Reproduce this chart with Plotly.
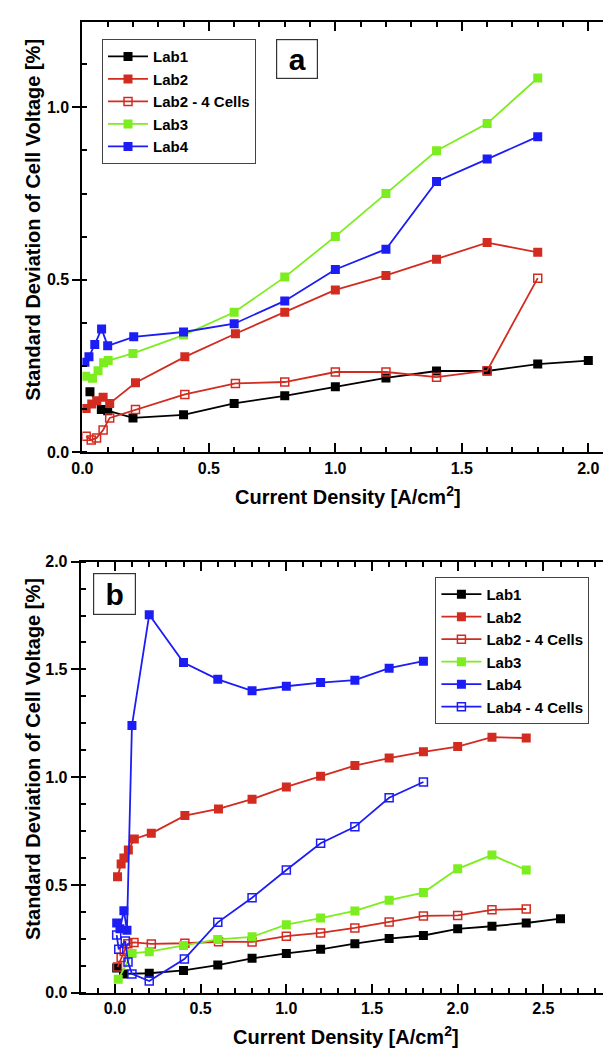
import plotly.graph_objects as go

# ---------------- Panel a data ----------------
a_lab1_x = [0.03, 0.075, 0.1, 0.2, 0.4, 0.6, 0.8, 1.0, 1.2, 1.4, 1.6, 1.8, 2.0]
a_lab1_y = [0.176, 0.124, 0.121, 0.100, 0.109, 0.142, 0.164, 0.190, 0.216, 0.236, 0.236, 0.256, 0.266]

a_lab2_x = [0.015, 0.037, 0.057, 0.082, 0.108, 0.21, 0.405, 0.605, 0.8, 1.0, 1.2, 1.4, 1.6, 1.8]
a_lab2_y = [0.127, 0.140, 0.150, 0.160, 0.142, 0.202, 0.277, 0.344, 0.406, 0.471, 0.513, 0.560, 0.608, 0.580]

a_lab2c_x = [0.015, 0.035, 0.056, 0.082, 0.108, 0.21, 0.405, 0.605, 0.8, 1.0, 1.2, 1.4, 1.6, 1.8]
a_lab2c_y = [0.047, 0.036, 0.042, 0.065, 0.100, 0.124, 0.168, 0.200, 0.204, 0.233, 0.233, 0.218, 0.237, 0.505]

a_lab3_x = [0.013, 0.04, 0.062, 0.084, 0.102, 0.2, 0.4, 0.6, 0.8, 1.0, 1.2, 1.4, 1.6, 1.8]
a_lab3_y = [0.221, 0.215, 0.237, 0.260, 0.266, 0.287, 0.340, 0.406, 0.508, 0.626, 0.750, 0.874, 0.953, 1.085]

a_lab4_x = [0.01, 0.026, 0.049, 0.076, 0.1, 0.203, 0.4, 0.6, 0.8, 1.0, 1.2, 1.4, 1.6, 1.8]
a_lab4_y = [0.261, 0.277, 0.313, 0.358, 0.309, 0.335, 0.349, 0.373, 0.439, 0.530, 0.589, 0.785, 0.850, 0.915]

# ---------------- Panel b data ----------------
b_lab1_x = [0.01, 0.05, 0.2, 0.4, 0.6, 0.8, 1.0, 1.2, 1.4, 1.6, 1.8, 2.0, 2.2, 2.4, 2.6]
b_lab1_y = [0.115, 0.088, 0.091, 0.104, 0.129, 0.160, 0.183, 0.202, 0.228, 0.252, 0.266, 0.297, 0.309, 0.324, 0.344]

b_lab2_x = [0.015, 0.036, 0.052, 0.078, 0.113, 0.212, 0.408, 0.604, 0.8, 1.0, 1.2, 1.4, 1.6, 1.8, 2.0, 2.2, 2.4]
b_lab2_y = [0.538, 0.598, 0.625, 0.662, 0.714, 0.740, 0.822, 0.853, 0.898, 0.955, 1.005, 1.054, 1.089, 1.118, 1.142, 1.186, 1.182]

b_lab2c_x = [0.015, 0.036, 0.054, 0.075, 0.111, 0.212, 0.408, 0.604, 0.8, 1.0, 1.2, 1.4, 1.6, 1.8, 2.0, 2.2, 2.4]
b_lab2c_y = [0.120, 0.164, 0.192, 0.228, 0.234, 0.227, 0.230, 0.237, 0.236, 0.263, 0.278, 0.301, 0.329, 0.357, 0.359, 0.385, 0.389]

b_lab3_x = [0.019, 0.1, 0.2, 0.4, 0.6, 0.8, 1.0, 1.2, 1.4, 1.6, 1.8, 2.0, 2.2, 2.4]
b_lab3_y = [0.063, 0.183, 0.191, 0.220, 0.248, 0.260, 0.316, 0.347, 0.380, 0.430, 0.465, 0.575, 0.639, 0.570]

b_lab4_x = [0.01, 0.029, 0.052, 0.07, 0.099, 0.2, 0.4, 0.6, 0.8, 1.0, 1.2, 1.4, 1.6, 1.8]
b_lab4_y = [0.324, 0.297, 0.381, 0.29, 1.240, 1.754, 1.532, 1.454, 1.401, 1.422, 1.439, 1.450, 1.506, 1.538]

b_lab4c_x = [0.01, 0.022, 0.06, 0.076, 0.099, 0.2, 0.405, 0.6, 0.8, 1.0, 1.2, 1.4, 1.6, 1.8]
b_lab4c_y = [0.268, 0.202, 0.240, 0.143, 0.088, 0.055, 0.157, 0.327, 0.441, 0.570, 0.694, 0.770, 0.905, 0.978]

x_ticks_a = [0.0, 0.5, 1.0, 1.5, 2.0]
y_ticks_a = [0.0, 0.5, 1.0]
x_ticks_b = [0.0, 0.5, 1.0, 1.5, 2.0, 2.5]
y_ticks_b = [0.0, 0.5, 1.0, 1.5, 2.0]

BLACK = "#000000"
RED = "#d22b20"
GREEN = "#7ced1f"
BLUE = "#1c1cf5"

FONT = "Liberation Sans, Arial, sans-serif"

fig = go.Figure()


def add(x, y, name, color, filled, xa, ya, legend):
    fig.add_trace(go.Scatter(
        x=x, y=y, name=name, mode="lines+markers",
        xaxis=xa, yaxis=ya, legend=legend,
        line=dict(color=color, width=1.8),
        marker=dict(symbol="square" if filled else "square-open",
                    size=9 if filled else 8, color=color,
                    line=dict(color=color, width=1.5 if not filled else 0)),
    ))


add(a_lab1_x, a_lab1_y, "Lab1", BLACK, True, "x", "y", "legend")
add(a_lab2_x, a_lab2_y, "Lab2", RED, True, "x", "y", "legend")
add(a_lab2c_x, a_lab2c_y, "Lab2 - 4 Cells", RED, False, "x", "y", "legend")
add(a_lab3_x, a_lab3_y, "Lab3", GREEN, True, "x", "y", "legend")
add(a_lab4_x, a_lab4_y, "Lab4", BLUE, True, "x", "y", "legend")

add(b_lab1_x, b_lab1_y, "Lab1", BLACK, True, "x2", "y2", "legend2")
add(b_lab2_x, b_lab2_y, "Lab2", RED, True, "x2", "y2", "legend2")
add(b_lab2c_x, b_lab2c_y, "Lab2 - 4 Cells", RED, False, "x2", "y2", "legend2")
add(b_lab3_x, b_lab3_y, "Lab3", GREEN, True, "x2", "y2", "legend2")
add(b_lab4_x, b_lab4_y, "Lab4", BLUE, True, "x2", "y2", "legend2")
add(b_lab4c_x, b_lab4c_y, "Lab4 - 4 Cells", BLUE, False, "x2", "y2", "legend2")

W, H = 603, 1054
tickfont = dict(family=FONT, size=16, color="black", weight="bold")


def xaxis(rng, ticks, dom, anchor):
    return dict(range=rng, domain=dom, anchor=anchor, tickvals=ticks,
                ticktext=[f"{t:.1f}" for t in ticks],
                showgrid=False, zeroline=False, showline=True, linecolor="black",
                linewidth=2, mirror="ticks", ticks="inside", ticklen=9, tickwidth=1.5,
                tickcolor="black", tickfont=tickfont,
                minor=dict(dtick=0.1, ticks="inside", ticklen=5, tickwidth=1.5,
                           tickcolor="black", showgrid=False))


def yaxis(rng, ticks, dom, anchor):
    return dict(range=rng, domain=dom, anchor=anchor, tickvals=ticks,
                ticktext=[f"{t:.1f}" for t in ticks],
                showgrid=False, zeroline=False, showline=True, linecolor="black",
                linewidth=2, mirror=False, ticks="outside", ticklen=8, tickwidth=1.5,
                tickcolor="black", tickfont=tickfont,
                minor=dict(dtick=0.125, ticks="inside", ticklen=5, tickwidth=1.5,
                           tickcolor="black", showgrid=False))


ax_a_x = [72.7 / W, 1.0]
ax_a_y = [1 - 451.7 / H, 1 - 14 / H]
ax_b_x = [71 / W, 1.0]
ax_b_y = [1 - 1001 / H, 1 - 562.7 / H]

legend_common = dict(bgcolor="white", bordercolor="#444", borderwidth=1,
                     font=dict(family=FONT, size=15, color="black", weight="bold"),
                     xanchor="left", yanchor="top", itemwidth=40,
                     tracegroupgap=0)

fig.update_layout(
    width=W, height=H,
    margin=dict(l=0, r=0, t=0, b=0),
    paper_bgcolor="white", plot_bgcolor="white",
    xaxis=xaxis([0, 2.058], x_ticks_a, ax_a_x, "y"),
    yaxis=yaxis([0, 1.248], y_ticks_a, ax_a_y, "x"),
    xaxis2=xaxis([-0.2, 2.848], x_ticks_b, ax_b_x, "y2"),
    yaxis2=yaxis([0, 2.0], y_ticks_b, ax_b_y, "x2"),
    legend=dict(x=92.7 / W, y=1 - 31.7 / H, **legend_common),
    legend2=dict(x=432.3 / W, y=1 - 578.3 / H, **legend_common),
    showlegend=True,
)

title_font = dict(family=FONT, size=20, color="black", weight="bold")
ann = []
ann.append(dict(text="Current Density [A/cm<sup>2</sup>]", x=343 / W, y=1 - 495 / H,
                xref="paper", yref="paper", showarrow=False, font=title_font,
                xanchor="center", yanchor="middle"))
ann.append(dict(text="Current Density [A/cm<sup>2</sup>]", x=341 / W, y=1 - 1044 / H,
                xref="paper", yref="paper", showarrow=False, font=title_font,
                xanchor="center", yanchor="middle"))
ann.append(dict(text="Standard Deviation of Cell Voltage [%]", x=21.7 / W, y=1 - 215 / H,
                xref="paper", yref="paper", showarrow=False, font=title_font,
                textangle=-90, xanchor="center", yanchor="middle"))
ann.append(dict(text="Standard Deviation of Cell Voltage [%]", x=21.7 / W, y=1 - 763 / H,
                xref="paper", yref="paper", showarrow=False, font=title_font,
                textangle=-90, xanchor="center", yanchor="middle"))
ann.append(dict(text="a", x=(270 + 311.7) / 2 / W, y=1 - (31.7 + 71.7) / 2 / H,
                xref="paper", yref="paper", showarrow=False,
                font=dict(family=FONT, size=30, color="black", weight="bold"),
                bordercolor="#333", borderwidth=1.2, bgcolor="white",
                width=38, height=36, xanchor="center", yanchor="middle"))
ann.append(dict(text="b", x=(83.3 + 126.7) / 2 / W, y=1 - (575 + 616.7) / 2 / H,
                xref="paper", yref="paper", showarrow=False,
                font=dict(family=FONT, size=30, color="black", weight="bold"),
                bordercolor="#333", borderwidth=1.2, bgcolor="white",
                width=39, height=38, xanchor="center", yanchor="middle"))
fig.update_layout(annotations=ann)

fig.write_html(
    "out.html",
    post_script="document.body.style.margin='0px';"
                "document.body.style.overflow='hidden';"
                "document.documentElement.style.overflow='hidden';",
)
